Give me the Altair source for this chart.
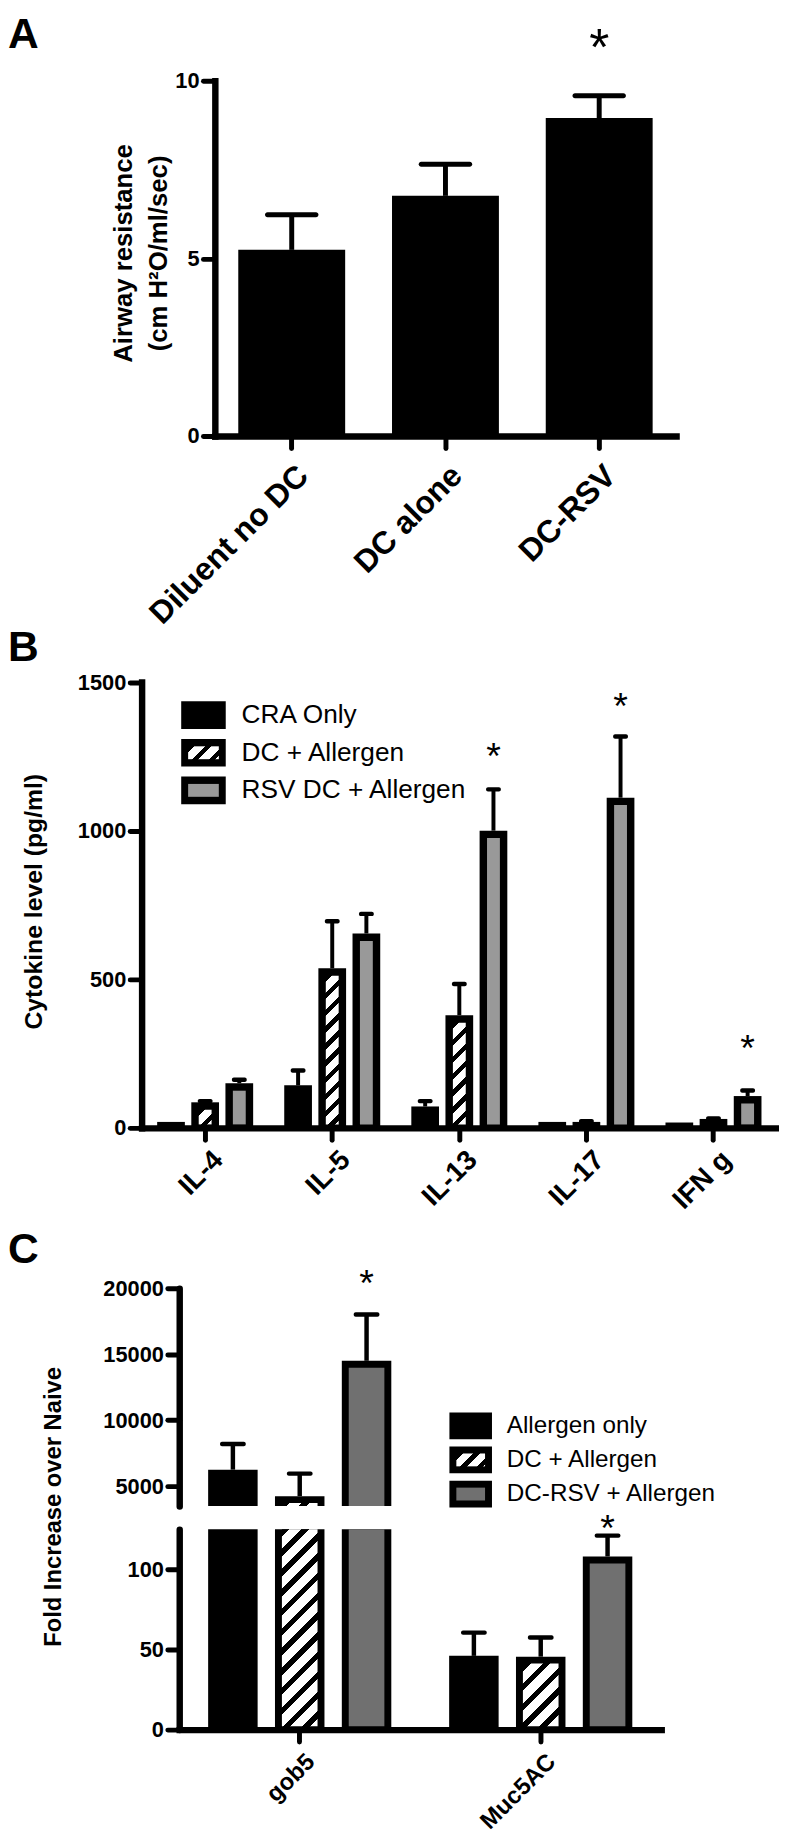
import altair as alt
import pandas as pd

FONT = "Liberation Sans, Arial, Helvetica, sans-serif"
W, H = 779, 1828

# ---------------- data ----------------
PANEL_LETTERS = ["A", "B", "C"]

A_groups = ["Diluent no DC", "DC alone", "DC-RSV"]
A_mean = [5.24, 6.76, 8.95]
A_err_top = [6.23, 7.65, 9.58]
A_star = [None, None, 11.1]
A_yticks = [0, 5, 10]

B_cytokines = ["IL-4", "IL-5", "IL-13", "IL-17", "IFN g"]
B_groups = ["CRA Only", "DC + Allergen", "RSV DC + Allergen"]
B_cra = [20, 143, 72, 20, 18]
B_cra_top = [20, 193, 90, 20, 18]
B_dc = [86, 537, 379, 20, 30]
B_dc_top = [90, 695, 484, 22, 32]
B_rsv = [150, 654, 1000, 1111, 107]
B_rsv_top = [162, 720, 1139, 1317, 126]
B_rsv_star = [None, None, 1265, 1432, 283]
B_yticks = [0, 500, 1000, 1500]

C_genes = ["gob5", "Muc5AC"]
C_groups = ["Allergen only", "DC + Allergen", "DC-RSV + Allergen"]
C_allergen = [6250, 46]
C_allergen_top = [8200, 60.5]
C_dc = [4240, 45.5]
C_dc_top = [5950, 57.5]
C_rsv = [14500, 108]
C_rsv_top = [18000, 121]
C_rsv_star = [20675, 128.5]
C_low_domain = [0, 125]
C_high_domain = [3500, 20000]
C_low_ticks = [0, 50, 100]
C_high_ticks = [5000, 10000, 15000, 20000]

# ---------------- layout (pixels) ----------------
A_X = [209, 675]
A_Y = [423, 64]
B_X = [135, 777]
B_Y = [1122, 671.6]
C_X = [173, 660]
C_YL = [1730, 1527.5]
C_YU = [1504, 1284]

GRAY_B = "#999999"
GRAY_C = "#707070"


def hatch(w, h, period, frac=0.38):
    n = (w + h) / period
    a = (w + h) / (w * w + h * h)
    stops = []
    k = 0
    while k < n:
        t0 = k / n
        t1 = min((k + frac) / n, 1.0)
        t2 = min((k + 1) / n, 1.0)
        stops += [(t0, "black"), (t1, "black"), (t1, "white"), (t2, "white")]
        k += 1
    return alt.LinearGradient(
        gradient="linear",
        stops=[alt.GradientStop(offset=o, color=c) for o, c in stops],
        x1=0, y1=0, x2=w * a, y2=h * a,
    )


def axis_style(**kw):
    base = dict(
        domainColor="black", domainWidth=6.5, domainCap="square",
        tickColor="black", tickWidth=5, tickSize=12, tickCap="round",
        labelColor="black", labelFont=FONT, labelFontWeight="bold",
        labelFontSize=22, labelPadding=4, labelLimit=0, grid=False, zindex=1,
        labelOverlap=False, labelFlush=False,
        titleFont=FONT, titleFontWeight="bold", titleColor="black",
        titleFontSize=24,
    )
    base.update(kw)
    return alt.Axis(**base)


def star_mark(fs, dx=0):
    return dict(text="*", fontSize=fs, font=FONT, baseline="alphabetic", align="center",
                dy=0.45 * fs, dx=dx, color="black")


# ---------------- tables ----------------
dfA = pd.DataFrame({"group": A_groups, "value": A_mean, "top": A_err_top, "star": A_star})

rows = []
for i, c in enumerate(B_cytokines):
    for g, vals, tops in zip(B_groups, [B_cra, B_dc, B_rsv], [B_cra_top, B_dc_top, B_rsv_top]):
        rows.append(dict(cyto=c, group=g, value=vals[i], top=tops[i],
                         star=B_rsv_star[i] if g == B_groups[2] else None))
dfB = pd.DataFrame(rows)

rows = []
for i, c in enumerate(C_genes):
    for g, vals, tops in zip(C_groups, [C_allergen, C_dc, C_rsv],
                             [C_allergen_top, C_dc_top, C_rsv_top]):
        rows.append(dict(gene=c, group=g, value=vals[i], top=tops[i],
                         star=C_rsv_star[i] if g == C_groups[2] else None))
dfC = pd.DataFrame(rows)

layers = []

# ---------------- panel A ----------------
scA_x = alt.Scale(domain=A_groups, range=A_X, paddingInner=0.3, paddingOuter=0.15)
scA_y = alt.Scale(domain=[0, 10], range=A_Y, nice=False, zero=False)


def xA(axis=None):
    return alt.X("group:N", sort=A_groups, scale=scA_x, axis=axis)


def yA(f, axis=None):
    return alt.Y(f, type="quantitative", scale=scA_y, axis=axis)


baseA = alt.Chart(dfA)
layers.append(baseA.mark_rule(strokeWidth=5, color="black").encode(
    x=xA(), y=yA("value"), y2=alt.Y2("top")))
layers.append(baseA.mark_tick(thickness=5, size=54, color="black", opacity=1, cornerRadius=2.5).encode(
    x=xA(), y=yA("top")))
layers.append(baseA.mark_bar(width=108, color="black").encode(
    x=xA(axis_style(orient="bottom", offset=A_Y[0] - H, title=None, labelAngle=315,
                    labelAlign="right", labelBaseline="top", labelFontSize=32,
                    labelPadding=12, labelOffset=1)),
    y=yA("value", axis_style(orient="left", offset=-A_X[0], values=A_yticks, format="d",
                             title=["Airway resistance", "(cm H²O/ml/sec)"],
                             titleAngle=270, titleAlign="center", titleBaseline="middle",
                             titleX=117 - A_X[0], titleY=238, titleLineHeight=35,
                             titleFontSize=26)),
    y2=alt.Y2(datum=0)))
layers.append(baseA.transform_filter("isValid(datum.star)").mark_text(**star_mark(52)).encode(
    x=xA(), y=yA("star")))

# ---------------- panel B ----------------
scB_x = alt.Scale(domain=B_cytokines, range=B_X, paddingInner=0.194, paddingOuter=0.097)
scB_xo = alt.Scale(domain=B_groups, paddingInner=0, paddingOuter=0)
scB_y = alt.Scale(domain=[0, 1500], range=B_Y, nice=False, zero=False)
pB = (B_Y[0] - B_Y[1]) / 1500.0
subB = (B_X[1] - B_X[0]) / 5.0 * (1 - 0.194) / 3.0


def xB(axis=None):
    return alt.X("cyto:N", sort=B_cytokines, scale=scB_x, axis=axis)


def xoB():
    return alt.XOffset("group:N", sort=B_groups, scale=scB_xo)


def yB(f, axis=None):
    return alt.Y(f, type="quantitative", scale=scB_y, axis=axis)


baseB = alt.Chart(dfB)
errB = baseB.transform_filter("datum.top > datum.value + 1")
layers.append(errB.mark_rule(strokeWidth=4, color="black").encode(
    x=xB(), xOffset=xoB(), y=yB("value"), y2=alt.Y2("top")))
layers.append(errB.mark_tick(thickness=4.5, size=15, color="black", opacity=1, cornerRadius=2).encode(
    x=xB(), xOffset=xoB(), y=yB("top")))
layers.append(baseB.mark_bar(width=28, color="black").encode(
    x=xB(axis_style(orient="bottom", offset=B_Y[0] - H, title=None, labelAngle=315,
                    labelAlign="right", labelBaseline="top", labelFontSize=28,
                    labelPadding=6, labelOffset=4)),
    xOffset=xoB(),
    y=yB("value", axis_style(orient="left", offset=-B_X[0], values=B_yticks, format="d",
                             title="Cytokine level (pg/ml)", titleAngle=270,
                             titleAlign="center", titleBaseline="middle",
                             titleX=26 - B_X[0], titleY=893, titleFontSize=25)),
    y2=alt.Y2(datum=0)))
layers.append(baseB.transform_filter(alt.datum.group == B_groups[2]).mark_bar(
    width=13, fill=GRAY_B, yOffset=7.5, y2Offset=-3.5).encode(
    x=xB(), xOffset=xoB(), y=yB("value"), y2=alt.Y2(datum=0)))
for i, c in enumerate(B_cytokines):
    v = B_dc[i]
    if v * pB > 14:
        hpx = v * pB - 7.5 - 3.5
        layers.append(baseB.transform_filter(
            (alt.datum.group == B_groups[1]) & (alt.datum.cyto == c)).mark_bar(
            width=13, fill=hatch(13, hpx, 17), yOffset=7.5, y2Offset=-3.5).encode(
            x=xB(), xOffset=xoB(), y=yB("value"), y2=alt.Y2(datum=0)))
layers.append(baseB.transform_filter("isValid(datum.star)").mark_text(
    **star_mark(38, -subB / 2)).encode(x=xB(), xOffset=xoB(), y=yB("star")))

# legend B
dfBL = pd.DataFrame({"label": B_groups})
scBL = alt.Scale(type="point", domain=B_groups, range=[705, 781], padding=0)
yBL = alt.Y("label:N", scale=scBL, axis=None)
baseBL = alt.Chart(dfBL)
layers.append(baseBL.mark_point(shape="M-1,-0.622H1V0.622H-1Z", size=45 * 45, filled=True,
                                color="black", opacity=1).encode(x=alt.value(197.5), y=yBL))
layers.append(baseBL.transform_filter(alt.datum.label == B_groups[2]).mark_point(
    shape="M-1,-0.42H1V0.42H-1Z", size=31 * 31, filled=True, fill=GRAY_B, opacity=1).encode(
    x=alt.value(197.5), y=yBL))
layers.append(baseBL.transform_filter(alt.datum.label == B_groups[1]).mark_point(
    shape="M-1,-0.42H1V0.42H-1Z", size=31 * 31, filled=True, fill=hatch(31, 13, 17), opacity=1).encode(
    x=alt.value(197.5), y=yBL))
layers.append(baseBL.mark_text(align="left", baseline="middle", fontSize=26.5, font=FONT,
                               color="black").encode(x=alt.value(236), y=yBL, text="label:N"))

# ---------------- panel C ----------------
scC_x = alt.Scale(domain=C_genes, range=C_X, paddingInner=0.168, paddingOuter=0.084)
scC_xo = alt.Scale(domain=C_groups, paddingInner=0, paddingOuter=0)
pCL = (C_YL[0] - C_YL[1]) / float(C_low_domain[1] - C_low_domain[0])
pCU = (C_YU[0] - C_YU[1]) / float(C_high_domain[1] - C_high_domain[0])
subC = (C_X[1] - C_X[0]) / 2.0 * (1 - 0.168) / 3.0


def xC(axis=None):
    return alt.X("gene:N", sort=C_genes, scale=scC_x, axis=axis)


def xoC():
    return alt.XOffset("group:N", sort=C_groups, scale=scC_xo)


def yCL(f, axis=None, clamp=True):
    return alt.Y(f, type="quantitative", axis=axis,
                 scale=alt.Scale(domain=C_low_domain, range=C_YL, nice=False, zero=False, clamp=clamp))


def yCU(f, axis=None, clamp=True):
    return alt.Y(f, type="quantitative", axis=axis,
                 scale=alt.Scale(domain=C_high_domain, range=C_YU, nice=False, zero=False, clamp=clamp))


baseC = alt.Chart(dfC)
lowC = baseC.transform_filter(alt.datum.gene == C_genes[1])
highC = baseC.transform_filter(alt.datum.gene == C_genes[0])

# lower segment
layers.append(lowC.mark_rule(strokeWidth=4.5, color="black").encode(
    x=xC(), xOffset=xoC(), y=yCL("value"), y2=alt.Y2("top")))
layers.append(lowC.mark_tick(thickness=4.5, size=26, color="black", opacity=1, cornerRadius=2).encode(
    x=xC(), xOffset=xoC(), y=yCL("top")))
layers.append(baseC.mark_bar(width=50, color="black").encode(
    x=xC(axis_style(orient="bottom", offset=C_YL[0] - H, title=None, labelAngle=315,
                    labelAlign="right", labelBaseline="top", labelFontSize=24,
                    labelPadding=8, labelOffset=3)),
    xOffset=xoC(),
    y=yCL("value", axis_style(orient="left", offset=-C_X[0], values=C_low_ticks, format="d",
                              domainCap="round", title="Fold Increase over Naive",
                              titleAngle=270, titleAlign="center", titleBaseline="middle",
                              titleX=46 - C_X[0], titleY=1504.5)),
    y2=alt.Y2(datum=0)))
for gene, top_inset in [(C_genes[0], 0), (C_genes[1], 7)]:
    layers.append(baseC.transform_filter(
        (alt.datum.gene == gene) & (alt.datum.group == C_groups[2])).mark_bar(
        width=36, fill=GRAY_C, yOffset=top_inset, y2Offset=-3.5).encode(
        x=xC(), xOffset=xoC(), y=yCL("value"), y2=alt.Y2(datum=0)))
    v = min(C_dc[C_genes.index(gene)], C_low_domain[1])
    hpx = v * pCL - top_inset - 3.5
    layers.append(baseC.transform_filter(
        (alt.datum.gene == gene) & (alt.datum.group == C_groups[1])).mark_bar(
        width=36, fill=hatch(36, hpx, 20), yOffset=top_inset, y2Offset=-3.5).encode(
        x=xC(), xOffset=xoC(), y=yCL("value"), y2=alt.Y2(datum=0)))
layers.append(lowC.transform_filter("isValid(datum.star)").mark_text(
    **star_mark(38, -subC / 2)).encode(
    x=xC(), xOffset=xoC(), y=yCL("star", clamp=False)))

# upper segment
layers.append(highC.mark_rule(strokeWidth=4.5, color="black").encode(
    x=xC(), xOffset=xoC(), y=yCU("value"), y2=alt.Y2("top")))
layers.append(highC.mark_tick(thickness=4.5, size=26, color="black", opacity=1, cornerRadius=2).encode(
    x=xC(), xOffset=xoC(), y=yCU("top")))
layers.append(highC.mark_bar(width=50, color="black").encode(
    x=xC(), xOffset=xoC(),
    y=yCU("value", axis_style(orient="left", offset=-C_X[0], values=C_high_ticks, format="d",
                              domainCap="round", title=None)),
    y2=alt.Y2(datum=C_high_domain[0])))
layers.append(highC.transform_filter(alt.datum.group == C_groups[2]).mark_bar(
    width=36, fill=GRAY_C, yOffset=7).encode(
    x=xC(), xOffset=xoC(), y=yCU("value"), y2=alt.Y2(datum=C_high_domain[0])))
hpx_u = max((C_dc[0] - C_high_domain[0]) * pCU - 7, 1)
layers.append(highC.transform_filter(alt.datum.group == C_groups[1]).mark_bar(
    width=36, fill=hatch(36, hpx_u, 20), yOffset=7).encode(
    x=xC(), xOffset=xoC(), y=yCU("value"), y2=alt.Y2(datum=C_high_domain[0])))
layers.append(highC.transform_filter("isValid(datum.star)").mark_text(
    **star_mark(38, -subC / 2)).encode(
    x=xC(), xOffset=xoC(), y=yCU("star", clamp=False)))

# legend C
dfCL = pd.DataFrame({"label": C_groups})
scCL = alt.Scale(type="point", domain=C_groups, range=[1423, 1492], padding=0)
yCLg = alt.Y("label:N", scale=scCL, axis=None)
baseCL = alt.Chart(dfCL)
layers.append(baseCL.mark_point(shape="M-1,-0.628H1V0.628H-1Z", size=43 * 43, filled=True,
                                color="black", opacity=1).encode(x=alt.value(467.5), y=yCLg))
layers.append(baseCL.transform_filter(alt.datum.label == C_groups[2]).mark_point(
    shape="M-1,-0.448H1V0.448H-1Z", size=29 * 29, filled=True, fill=GRAY_C, opacity=1).encode(
    x=alt.value(467.5), y=yCLg))
layers.append(baseCL.transform_filter(alt.datum.label == C_groups[1]).mark_point(
    shape="M-1,-0.448H1V0.448H-1Z", size=29 * 29, filled=True, fill=hatch(29, 13, 17), opacity=1).encode(
    x=alt.value(467.5), y=yCLg))
layers.append(baseCL.mark_text(align="left", baseline="middle", fontSize=24.5, font=FONT,
                               color="black").encode(x=alt.value(504), y=yCLg, text="label:N"))

# ---------------- panel letters ----------------
for letter, ly in zip(PANEL_LETTERS, [31, 650, 1259]):
    layers.append(alt.Chart(pd.DataFrame({"t": [letter]})).mark_text(
        align="left", baseline="alphabetic", fontSize=43, fontWeight="bold", font=FONT,
        color="black").encode(x=alt.value(0), y=alt.value(ly), text="t:N"))

chart = alt.layer(*layers).resolve_scale(
    x="independent", y="independent", xOffset="independent"
).properties(
    width=W, height=H, autosize=alt.AutoSizeParams(type="none"), padding=0
).configure_view(stroke=None)

chart.save("out.html", embed_options={"renderer": "svg", "actions": False})
